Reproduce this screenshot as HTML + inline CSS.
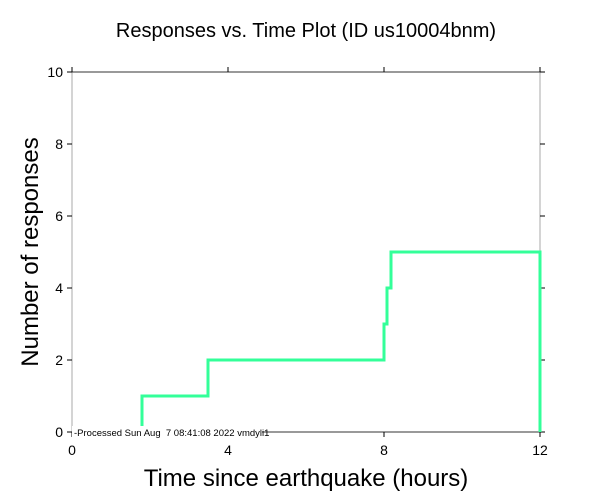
<!DOCTYPE html>
<html><head><meta charset="utf-8"><style>
html,body{margin:0;padding:0;background:#fff;}
svg{display:block;font-family:"Liberation Sans",sans-serif;}
</style></head><body>
<svg width="612" height="504" viewBox="0 0 612 504" xmlns="http://www.w3.org/2000/svg">
<rect width="612" height="504" fill="#fff"/>
<text x="306" y="37" font-size="20" text-anchor="middle" fill="#000">Responses vs. Time Plot (ID us10004bnm)</text>
<line x1="72" y1="72" x2="72" y2="432" stroke="#aaa" stroke-width="1"/>
<line x1="540" y1="72" x2="540" y2="432" stroke="#aaa" stroke-width="1"/>
<line x1="72" y1="72" x2="540" y2="72" stroke="#333" stroke-width="1"/>
<line x1="72" y1="432" x2="540" y2="432" stroke="#333" stroke-width="1"/>
<g stroke="#000" stroke-width="1">
<line x1="67" y1="72" x2="72" y2="72"/><line x1="67" y1="144" x2="72" y2="144"/>
<line x1="67" y1="216" x2="72" y2="216"/><line x1="67" y1="288" x2="72" y2="288"/>
<line x1="67" y1="360" x2="72" y2="360"/><line x1="67" y1="432" x2="72" y2="432"/>
<line x1="540" y1="72" x2="545" y2="72"/><line x1="540" y1="144" x2="545" y2="144"/>
<line x1="540" y1="216" x2="545" y2="216"/><line x1="540" y1="288" x2="545" y2="288"/>
<line x1="540" y1="360" x2="545" y2="360"/><line x1="540" y1="432" x2="545" y2="432"/>
<line x1="72" y1="67" x2="72" y2="72"/><line x1="228" y1="67" x2="228" y2="72"/>
<line x1="384" y1="67" x2="384" y2="72"/><line x1="540" y1="67" x2="540" y2="72"/>
<line x1="72" y1="432" x2="72" y2="437"/><line x1="228" y1="432" x2="228" y2="437"/>
<line x1="384" y1="432" x2="384" y2="437"/><line x1="540" y1="432" x2="540" y2="437"/>
</g>
<g font-size="14" fill="#000" text-anchor="end">
<text x="63" y="77">10</text><text x="63" y="149">8</text><text x="63" y="221">6</text>
<text x="63" y="293">4</text><text x="63" y="365">2</text><text x="63" y="437">0</text>
</g>
<g font-size="14" fill="#000" text-anchor="middle">
<text x="72" y="455">0</text><text x="228" y="455">4</text><text x="384" y="455">8</text><text x="540" y="455">12</text>
</g>
<text x="306" y="486" font-size="24" text-anchor="middle" fill="#000">Time since earthquake (hours)</text>
<text transform="translate(38,252) rotate(-90)" font-size="24" text-anchor="middle" fill="#000">Number of responses</text>
<polyline points="142,432 142,396 208,396 208,360 384,360 384,324 387,324 387,288 391,288 391,252 540,252 540,432" fill="none" stroke="#33ff99" stroke-width="3"/>
<rect x="72" y="426" width="190" height="12" fill="#fff"/>
<text x="74" y="436" font-size="9.5" fill="#000" style="white-space:pre">-Processed Sun Aug  7 08:41:08 2022 vmdyli1</text>
</svg>
</body></html>
